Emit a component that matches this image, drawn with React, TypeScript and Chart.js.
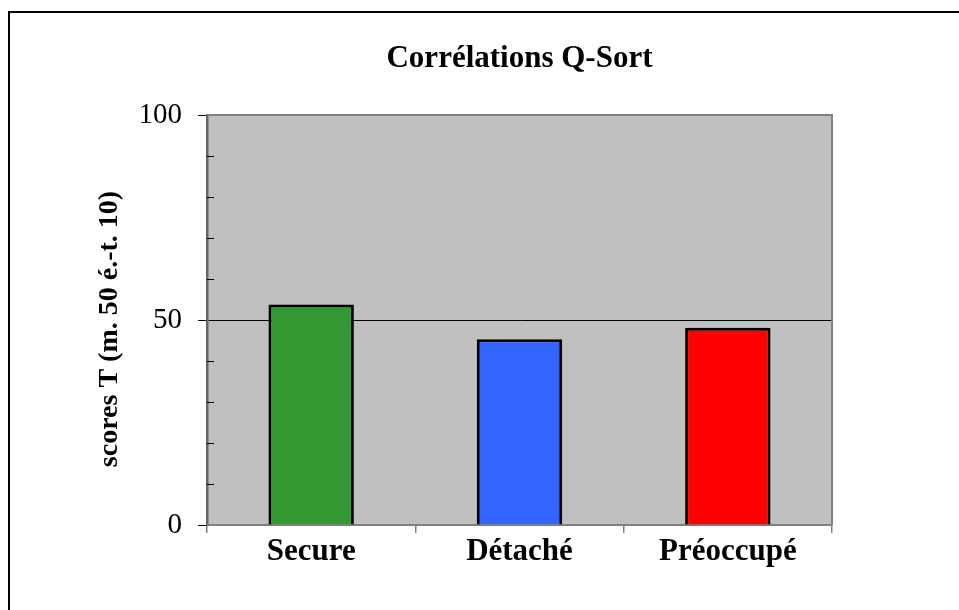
import React, { useEffect, useRef } from "react";
import { Chart, registerables } from "chart.js";

Chart.register(...registerables);

const chartTitle = "Corrélations Q-Sort";
const yAxisTitle = "scores T (m. 50 é.-t. 10)";
const categories = ["Secure", "Détaché", "Préoccupé"];
const scores = [53.8, 45.3, 48.1];
const barColors = ["#339933", "#3366FF", "#FF0000"];
const minorTickValues = [10, 20, 30, 40, 60, 70, 80, 90];

const decorPlugin = {
  id: "decor",
  beforeDraw(chart: any) {
    const { ctx, chartArea } = chart;
    ctx.save();
    ctx.fillStyle = "#ffffff";
    ctx.fillRect(0, 0, chart.width, chart.height);
    ctx.fillStyle = "#C0C0C0";
    ctx.fillRect(chartArea.left, chartArea.top, chartArea.right - chartArea.left, chartArea.bottom - chartArea.top);
    ctx.restore();
  },
  beforeDatasetsDraw(chart: any) {
    const { ctx, chartArea, scales } = chart;
    ctx.save();
    ctx.strokeStyle = "#808080";
    ctx.lineWidth = 2;
    ctx.beginPath();
    ctx.moveTo(chartArea.left, chartArea.top);
    ctx.lineTo(chartArea.right, chartArea.top);
    ctx.lineTo(chartArea.right, chartArea.bottom);
    ctx.stroke();
    // minor ticks inside
    ctx.strokeStyle = "#000";
    ctx.lineWidth = 1;
    const y = scales.y;
    minorTickValues.forEach((v) => {
      const py = Math.round(y.getPixelForValue(v)) + 0.5;
      ctx.beginPath();
      ctx.moveTo(chartArea.left, py);
      ctx.lineTo(chartArea.left + 7, py);
      ctx.stroke();
    });
    ctx.restore();
  },
  afterDraw(chart: any) {
    const { ctx, chartArea } = chart;
    ctx.save();
    // outer frame
    ctx.strokeStyle = "#000";
    ctx.lineWidth = 2;
    ctx.strokeRect(9, 12, 1200, 1200);
    // title
    ctx.fillStyle = "#000";
    ctx.font = "bold 31px 'Liberation Serif', 'Times New Roman', serif";
    ctx.textAlign = "center";
    ctx.textBaseline = "alphabetic";
    ctx.fillText(chartTitle, (chartArea.left + chartArea.right) / 2, 67);
    // y axis title
    ctx.font = "bold 28px 'Liberation Serif', 'Times New Roman', serif";
    ctx.translate(110, (chartArea.top + chartArea.bottom) / 2 + 9);
    ctx.rotate(-Math.PI / 2);
    ctx.textBaseline = "middle";
    ctx.fillText(yAxisTitle, 0, 0);
    ctx.restore();
  },
};

export default function App() {
  const canvasRef = useRef<HTMLCanvasElement | null>(null);

  useEffect(() => {
    document.body.style.margin = "0";
    const canvas = canvasRef.current;
    if (!canvas) return;
    const chart = new Chart(canvas, {
      type: "bar",
      data: {
        labels: categories,
        datasets: [
          {
            data: scores,
            backgroundColor: barColors,
            borderColor: "#000000",
            borderWidth: 3,
            barPercentage: 0.41,
            categoryPercentage: 1,
          },
        ],
      },
      options: {
        animation: false,
        responsive: false,
        devicePixelRatio: 1,
        layout: { padding: { left: 0, top: 115, right: 127, bottom: 25 } },
        plugins: {
          legend: { display: false },
          tooltip: { enabled: false },
          title: { display: false },
        },
        scales: {
          x: {
            afterFit(scale: any) {
              scale.height = 60;
            },
            grid: {
              offset: true,
              drawOnChartArea: false,
              color: "#808080",
              tickLength: 8,
              lineWidth: 1.5,
            },
            border: { display: true, color: "#808080", width: 2 },
            ticks: {
              color: "#000",
              padding: 0,
              font: { family: "'Liberation Serif', 'Times New Roman', serif", size: 31, weight: "bold" },
            },
          },
          y: {
            min: 0,
            max: 100,
            afterFit(scale: any) {
              scale.width = 207;
            },
            ticks: {
              stepSize: 50,
              color: "#000",
              padding: 16,
              font: { family: "'Liberation Serif', 'Times New Roman', serif", size: 29 },
            },
            grid: {
              color: (c: any) => (c.tick && c.tick.value === 50 ? "#000" : "rgba(0,0,0,0)"),
              tickColor: "#000",
              tickLength: 9,
              lineWidth: 1,
            },
            border: { display: true, color: "#666666", width: 2.5 },
          },
        },
      },
      plugins: [decorPlugin],
    } as any);
    return () => chart.destroy();
  }, []);

  return (
    <div style={{ position: "fixed", left: 0, top: 0, width: 959, height: 610 }}>
      <canvas ref={canvasRef} width={959} height={610} style={{ width: 959, height: 610, display: "block" }} />
    </div>
  );
}
